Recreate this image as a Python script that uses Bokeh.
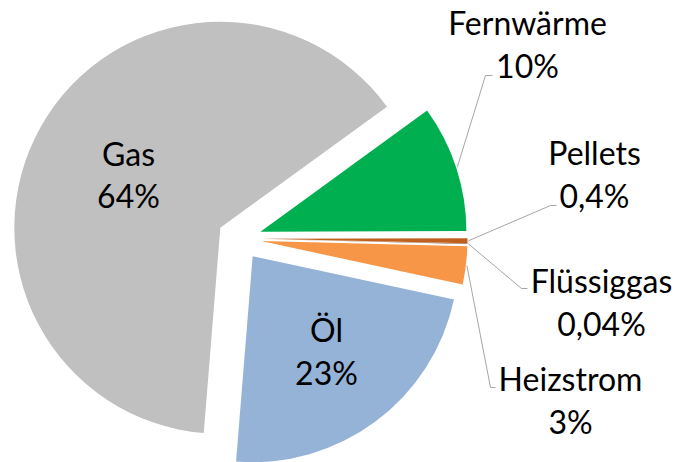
import numpy as np
from bokeh.plotting import figure
from bokeh.models import Range1d, ColumnDataSource
from bokeh.embed import file_html
from bokeh.resources import INLINE
from bokeh.core.properties import value

# ---- data ----
categories = ["Fernwärme", "Pellets", "Flüssiggas", "Heizstrom", "Öl", "Gas"]
shares = [10, 0.4, 0.04, 3, 23, 64]
colors = ["#00b050", "#c0601e", "#843c0c", "#f79646", "#95b3d7", "#c0c0c0"]

# ---- layout (page pixel coordinates, y downwards) ----
W, H = 678, 462
CX, CY = 239.0, 238.0
R = 206.0
EXPLODE = 22.0
FIRST_SLICE_ANGLE = 54.0  # degrees clockwise from 12 o'clock

label_x = [527, 594, 601, 570, 326, 128]
name_base = [32, 162, 290, 388, 339, 163]
pct_base = [75, 205, 333, 431, 382, 205]
TEXT_SHIFT = -10  # compensation for renderer baseline placement
# leader elbows for the outside labels (first four slices)
elbow = [(485, 75), (550, 205), (521, 288), (490, 387)]
elbow_end = [(492, 75), (556, 205), (527, 288), (495, 387)]

FONT = value("Lato")
FSIZE = "32px"


def pct_text(v):
    return f"{v:g}".replace(".", ",") + "%"


fr = np.array(shares, dtype=float) / sum(shares)
cum = np.concatenate([[0.0], np.cumsum(fr)])
a0 = np.deg2rad(90.0 - FIRST_SLICE_ANGLE)
start = a0 - 2 * np.pi * cum[1:]
end = a0 - 2 * np.pi * cum[:-1]
mid = (start + end) / 2

# data coordinates: x = page x, y = -page y
ax = CX + EXPLODE * np.cos(mid)
ay = -CY + EXPLODE * np.sin(mid)

p = figure(width=W, height=H, output_backend="svg", toolbar_location=None,
           x_range=Range1d(0, W), y_range=Range1d(-H, 0),
           x_axis_type=None, y_axis_type=None, min_border=0)
p.outline_line_color = None
p.grid.visible = False
p.background_fill_color = "white"
p.border_fill_color = "white"

src = ColumnDataSource(dict(x=ax, y=ay, start=start, end=end, color=colors))
p.wedge(x="x", y="y", radius=R, start_angle="start", end_angle="end",
        direction="anticlock", fill_color="color", line_color=None, source=src)

# leader lines for outside labels
for i in range(4):
    sx = ax[i] + (R + 1) * np.cos(mid[i])
    sy = ay[i] + (R + 1) * np.sin(mid[i])
    p.line([sx, elbow[i][0], elbow_end[i][0]],
           [sy, -elbow[i][1], -elbow_end[i][1]],
           line_color="#a6a6a6", line_width=1)

# labels
names_src = ColumnDataSource(dict(x=label_x, y=[-(b + TEXT_SHIFT) for b in name_base],
                                  t=categories))
pct_src = ColumnDataSource(dict(x=label_x, y=[-(b + TEXT_SHIFT) for b in pct_base],
                                t=[pct_text(v) for v in shares]))
for s in (names_src, pct_src):
    p.text(x="x", y="y", text="t", source=s, text_align="center",
           text_baseline="alphabetic", text_font=FONT, text_font_size=FSIZE,
           text_color="#000000")

open("out.html", "w").write(file_html(p, INLINE))
